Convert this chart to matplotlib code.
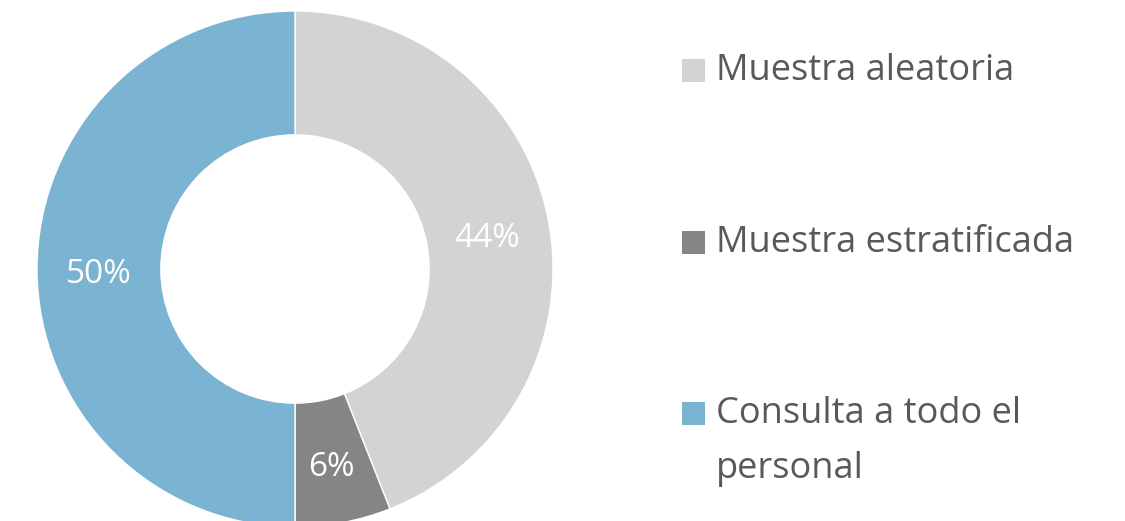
import matplotlib.pyplot as plt
from matplotlib.patches import Rectangle

plt.rcParams['font.family'] = ['Open Sans', 'DejaVu Sans']

# data
labels = ['Muestra aleatoria', 'Muestra estratificada', 'Consulta a todo el\npersonal']
values = [44, 6, 50]
colors = ['#D3D3D3', '#858585', '#7BB3D3']

W, H = 1125, 521
fig = plt.figure(figsize=(W / 100, H / 100), dpi=100)

# donut centre ~ (295, 269) px, outer radius ~258 px
cx, cy, r = 295, 269, 258
ax = fig.add_axes([(cx - r) / W, (H - cy - r) / H, 2 * r / W, 2 * r / H])
wedges, texts, autotexts = ax.pie(
    values, colors=colors, startangle=90, counterclock=False, radius=1,
    wedgeprops=dict(width=0.48, edgecolor='white', linewidth=1),
    autopct='%1.0f%%', pctdistance=0.76,
    textprops=dict(color='white', fontsize=24))
# excel sets the labels a touch lower
for t in autotexts:
    x, y = t.get_position()
    t.set_position((x, y - 0.023))
ax.set_xlim(-1, 1)
ax.set_ylim(-1, 1)
ax.set_aspect('equal')
ax.axis('off')

# legend, drawn by hand to match the wide spacing
legend_y = [71, 243, 414]
for lab, col, y in zip(labels, colors, legend_y):
    fig.add_artist(Rectangle((682 / W, 1 - (y + 11) / H), 23 / W, 23 / H,
                             facecolor=col, edgecolor='none',
                             transform=fig.transFigure))
    fig.text(716 / W, 1 - (y - 18) / H, lab, fontsize=26, color='#595959',
             va='top', ha='left', linespacing=1.7)

fig.savefig('out.png', dpi=100)
